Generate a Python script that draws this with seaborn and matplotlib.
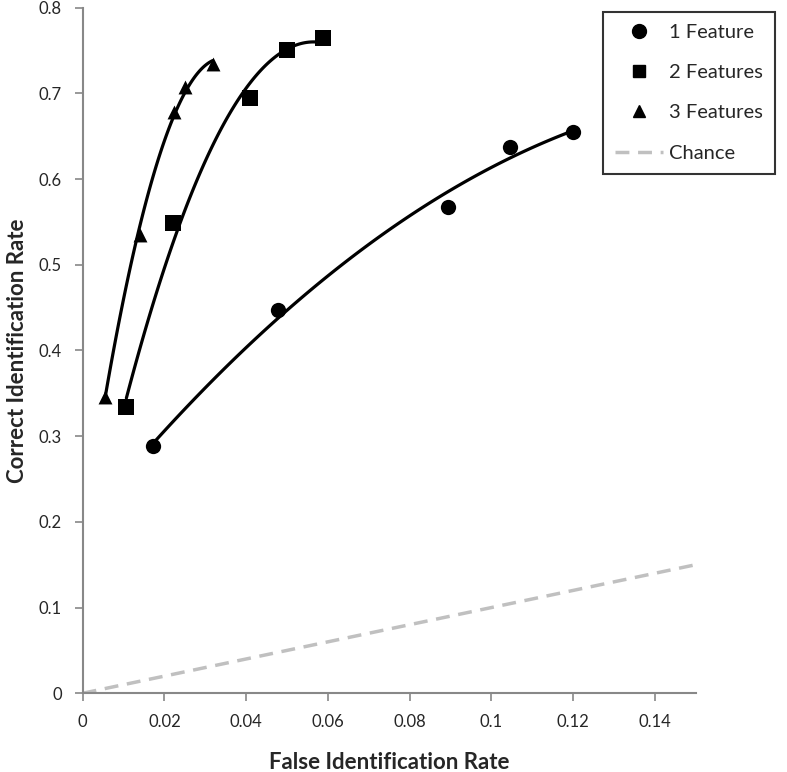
import numpy as np
import pandas as pd
import matplotlib
matplotlib.use("Agg")
import matplotlib.pyplot as plt
import seaborn as sns
from matplotlib.lines import Line2D

# Data
f1_x = [0.0172, 0.0478, 0.0893, 0.1045, 0.1200]
f1_y = [0.288, 0.447, 0.568, 0.637, 0.655]
f2_x = [0.0107, 0.0222, 0.0409, 0.0500, 0.0587]
f2_y = [0.334, 0.549, 0.695, 0.751, 0.765]
f3_x = [0.0054, 0.0140, 0.0223, 0.0250, 0.0318]
f3_y = [0.346, 0.535, 0.678, 0.707, 0.734]
chance_x = [0.0, 0.15]
chance_y = [0.0, 0.15]
x_ticks = [0, 0.02, 0.04, 0.06, 0.08, 0.1, 0.12, 0.14]
x_ticklabels = ["0", "0.02", "0.04", "0.06", "0.08", "0.1", "0.12", "0.14"]
y_ticks = [0, 0.1, 0.2, 0.3, 0.4, 0.5, 0.6, 0.7, 0.8]
y_ticklabels = ["0", "0.1", "0.2", "0.3", "0.4", "0.5", "0.6", "0.7", "0.8"]
series_names = ["1 Feature", "2 Features", "3 Features"]

sns.set_style("white")
plt.rcParams['font.family'] = ['Lato', 'DejaVu Sans']

fig = plt.figure(figsize=(7.87, 7.72), dpi=100)
ax = fig.add_axes([0.105, 0.102, 0.779, 0.888])

series = [(f1_x, f1_y, "o", 11), (f2_x, f2_y, "s", 11), (f3_x, f3_y, "^", 10)]
for (xs, ys, mk, ms), name in zip(series, series_names):
    df = pd.DataFrame({"x": xs, "y": ys})
    sns.regplot(data=df, x="x", y="y", order=2, ci=None, scatter=False,
                line_kws={"color": "black", "lw": 2.3}, ax=ax)
    sns.scatterplot(data=df, x="x", y="y", marker=mk, s=ms**2, color="black",
                    edgecolor="black", linewidth=0, ax=ax, zorder=5)

sns.lineplot(x=chance_x, y=chance_y, ax=ax, color="#c0c0c0", lw=2.5,
             linestyle=(0, (4, 2.5)))

ax.set_xlim(0, 0.15)
ax.set_ylim(0, 0.8)
ax.set_xticks(x_ticks)
ax.set_xticklabels(x_ticklabels, fontsize=12)
ax.set_yticks(y_ticks)
ax.set_yticklabels(y_ticklabels, fontsize=12)
ax.tick_params(axis="both", direction="out", length=6, width=1.2, color="#888888",
               bottom=True, left=True, pad=9)
for s in ["top", "right"]:
    ax.spines[s].set_visible(False)
for s in ["left", "bottom"]:
    ax.spines[s].set_color("#888888")
    ax.spines[s].set_linewidth(1.5)
ax.set_xlabel("False Identification Rate", fontsize=16, fontweight="bold", labelpad=16)
ax.set_ylabel("Correct Identification Rate", fontsize=16, fontweight="bold", labelpad=8)

handles = [
    Line2D([], [], marker="o", color="black", ls="none", markersize=10),
    Line2D([], [], marker="s", color="black", ls="none", markersize=9),
    Line2D([], [], marker="^", color="black", ls="none", markersize=8),
    Line2D([], [], color="#c0c0c0", lw=2.5, linestyle=(0, (4, 2.5))),
]
leg = fig.legend(handles, series_names + ["Chance"], loc="upper right",
                 bbox_to_anchor=(0.998, 0.998), bbox_transform=fig.transFigure,
                 fontsize=14.5, frameon=True, fancybox=False, labelspacing=1.15,
                 handlelength=2.4, handletextpad=0.3, borderpad=0.6)
leg.get_frame().set_edgecolor("black")
leg.get_frame().set_linewidth(1.5)

fig.savefig("out.png", dpi=100)
